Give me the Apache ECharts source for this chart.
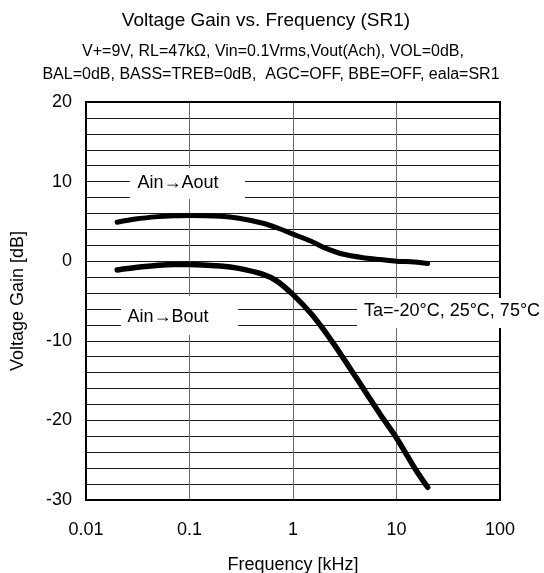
<!DOCTYPE html>
<html>
<head>
<meta charset="utf-8">
<script src="https://cdn.jsdelivr.net/npm/echarts@6/dist/echarts.min.js"></script>
<style>
html,body{margin:0;padding:0;background:#fff;}
#chart{width:544px;height:573px;}
</style>
</head>
<body>
<div id="chart"></div>
<script>
// ---- data ----
const freqAout = [0.02, 0.03, 0.05, 0.07, 0.1, 0.2, 0.3, 0.5, 0.7, 1, 1.5, 2, 3, 5, 7, 10, 15, 20];
const gainAout = [4.9, 5.3, 5.6, 5.7, 5.75, 5.65, 5.4, 4.8, 4.2, 3.4, 2.5, 1.7, 0.9, 0.4, 0.2, 0.0, -0.1, -0.3];
const freqBout = [0.02, 0.03, 0.05, 0.07, 0.1, 0.2, 0.3, 0.5, 0.7, 1, 1.5, 2, 3, 5, 7, 10, 15, 20];
const gainBout = [-1.1, -0.8, -0.5, -0.4, -0.4, -0.6, -0.9, -1.6, -2.5, -4.2, -6.6, -8.7, -12.0, -16.4, -19.3, -22.2, -26.0, -28.4];
const xTickLabels = ['0.01', '0.1', '1', '10', '100'];
const yTicks = [-30, -20, -10, 0, 10, 20];
const titleText = 'Voltage Gain vs. Frequency (SR1)';
const subtitleLines = ['V+=9V, RL=47k\u03A9, Vin=0.1Vrms,Vout(Ach), VOL=0dB,', 'BAL=0dB, BASS=TREB=0dB,  AGC=OFF, BBE=OFF, eala=SR1'];
const labelAout = 'Ain\u2192Aout';
const labelBout = 'Ain\u2192Bout';
const labelTemp = 'Ta=-20\u00B0C, 25\u00B0C, 75\u00B0C';

const FONT = '"Liberation Sans", Arial, sans-serif';
const pairs = (xs, ys) => xs.map((x, i) => [x, ys[i]]);

const chart = echarts.init(document.getElementById('chart'), null, {renderer: 'canvas'});

function labelBox(cx, cy, text, rx, ry, rw, rh) {
  return [
    {type: 'rect', z: 100, shape: {x: rx, y: ry, width: rw, height: rh}, style: {fill: '#fff', stroke: null}},
    {type: 'text', z: 101, x: cx, y: cy, style: {text: text, fill: '#000', font: '18px ' + FONT, textAlign: 'center', textVerticalAlign: 'middle'}}
  ];
}

chart.setOption({
  animation: false,
  backgroundColor: '#fff',
  grid: {left: 86, right: 44, top: 102, bottom: 73, show: true, borderColor: '#000', borderWidth: 2, z: 10,
         containLabel: false, outerBoundsMode: 'none'},
  xAxis: {
    type: 'log', logBase: 10, min: 0.01, max: 100,
    name: 'Frequency [kHz]', nameLocation: 'middle', nameGap: 56,
    nameTextStyle: {fontFamily: FONT, fontSize: 18, color: '#000'},
    axisLine: {show: false},
    axisTick: {show: false},
    axisLabel: {
      margin: 21, fontFamily: FONT, fontSize: 18, color: '#000',
      formatter: v => xTickLabels[Math.round(Math.log10(v)) + 2]
    },
    splitLine: {show: true, lineStyle: {color: '#6a6a6a', width: 1}},
    minorTick: {show: false}, minorSplitLine: {show: false}
  },
  yAxis: {
    type: 'value', min: yTicks[0], max: yTicks[yTicks.length - 1], interval: 10,
    name: 'Voltage Gain [dB]', nameLocation: 'middle', nameGap: 59, nameRotate: 90,
    nameTextStyle: {fontFamily: FONT, fontSize: 18, color: '#000'},
    axisLine: {show: false},
    axisTick: {show: false},
    axisLabel: {margin: 14, fontFamily: FONT, fontSize: 18, color: '#000'},
    splitLine: {show: true, lineStyle: {color: '#1a1a1a', width: 1}},
    minorTick: {show: false, splitNumber: 5},
    minorSplitLine: {show: true, lineStyle: {color: '#1a1a1a', width: 1}}
  },
  series: [
    {
      name: labelAout, type: 'line', data: pairs(freqAout, gainAout), smooth: 0.3,
      showSymbol: false, symbol: 'none', z: 20,
      lineStyle: {color: '#000', width: 5, cap: 'round'}
    },
    {
      name: labelBout, type: 'line', data: pairs(freqBout, gainBout), smooth: 0.3,
      showSymbol: false, symbol: 'none', z: 20,
      lineStyle: {color: '#000', width: 5.5, cap: 'round'}
    }
  ],
  graphic: [
    {type: 'text', x: 266, y: 21, style: {text: titleText, fill: '#000', font: '19px ' + FONT, textAlign: 'center', textVerticalAlign: 'middle'}},
    {type: 'text', x: 273, y: 52, style: {text: subtitleLines[0], fill: '#000', font: '16px ' + FONT, textAlign: 'center', textVerticalAlign: 'middle'}},
    {type: 'text', x: 271, y: 75, style: {text: subtitleLines[1], fill: '#000', font: '16px ' + FONT, textAlign: 'center', textVerticalAlign: 'middle'}}
  ].concat(
    labelBox(178, 183, labelAout, 130, 168, 115, 31),
    labelBox(168, 317, labelBout, 121, 296, 117, 39),
    labelBox(452, 311, labelTemp, 357, 298, 187, 30)
  )
});
</script>
</body>
</html>
